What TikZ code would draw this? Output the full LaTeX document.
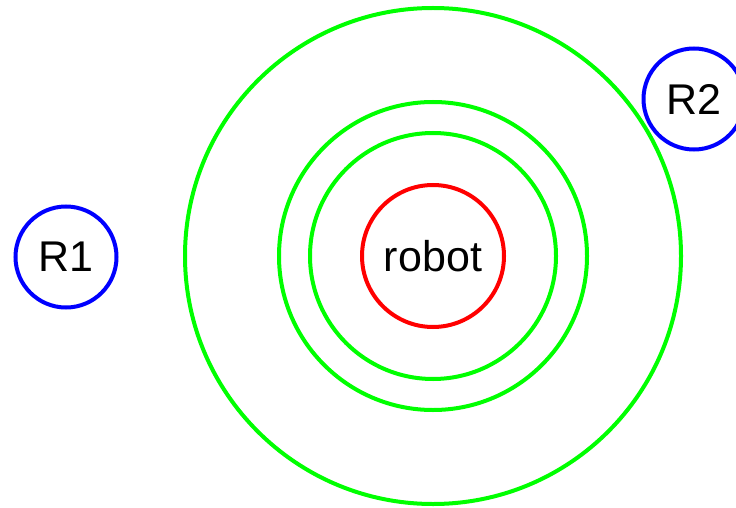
\documentclass[tikz,border=0pt]{standalone}
\usepackage{fontspec}
\setmainfont{Liberation Sans}
\definecolor{pgreen}{RGB}{0,255,0}
\definecolor{pblue}{RGB}{0,0,255}
\definecolor{pred}{RGB}{255,0,0}
\begin{document}
\begin{tikzpicture}[x=1pt,y=-1pt,
  lbl/.style={circle,line width=4pt,inner sep=0pt,font=\fontsize{43}{50}\selectfont},
  ring/.style={draw=pgreen,line width=4pt}]
\useasboundingbox (0,0) rectangle (736,508);
\begin{scope}
\clip (0,0) rectangle (736,508);
\node[lbl,draw=pred,minimum size=142pt] (robot) at (433,256) {robot};
\draw[ring] (robot.center) circle[radius=123pt];
\draw[ring] (robot.center) circle[radius=154pt];
\draw[ring] (robot.center) circle[radius=248pt];
\node[lbl,draw=pblue,minimum size=101pt] (r1) at (66,257) {R1};
\node[lbl,draw=pblue,minimum size=101pt] (r2) at (694,99) {R2};
\end{scope}
\end{tikzpicture}
\end{document}
